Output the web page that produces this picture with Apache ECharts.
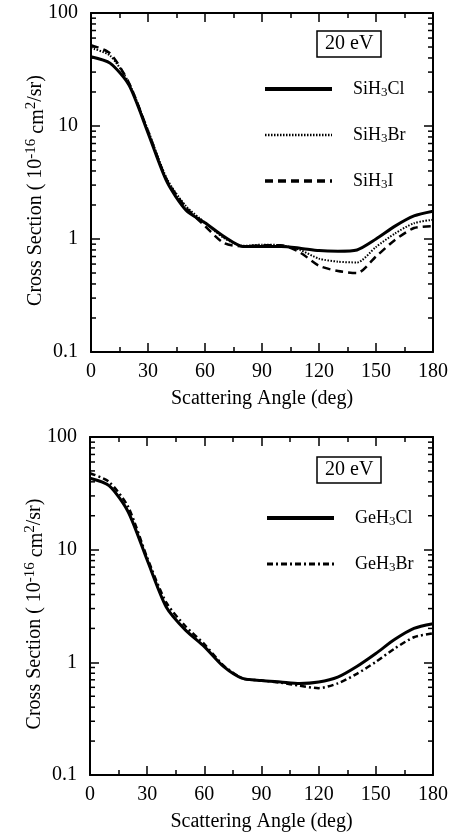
<!DOCTYPE html>
<html><head><meta charset="utf-8">
<script src="https://cdn.jsdelivr.net/npm/echarts@6/dist/echarts.min.js"></script>
<style>html,body{margin:0;padding:0;background:#fff}#c{width:458px;height:834px}</style>
</head><body><div id="c"></div>
<script>
var angles = [0,10,20,30,40,50,60,70,80,90,100,110,120,130,140,150,160,170,180];
var siH3Cl = [41,36,23,8.7,3.2,1.8,1.39,1.05,0.86,0.86,0.86,0.83,0.79,0.78,0.80,1.0,1.3,1.6,1.76];
var siH3Br = [49,42,24,9.2,3.4,1.95,1.4,1.02,0.87,0.89,0.88,0.80,0.67,0.63,0.62,0.85,1.12,1.38,1.48];
var siH3I  = [52,44,24,9.0,3.3,1.9,1.3,0.92,0.86,0.88,0.88,0.76,0.58,0.52,0.50,0.70,0.98,1.25,1.30];
var geH3Cl = [43,37,21.7,8.1,3.1,1.94,1.38,0.92,0.72,0.69,0.67,0.65,0.67,0.74,0.92,1.2,1.6,2.0,2.2];
var geH3Br = [47.7,40,24,8.5,3.4,2.1,1.45,0.94,0.72,0.69,0.66,0.62,0.59,0.65,0.79,1.01,1.33,1.67,1.81];
var yTickLabels = ['0.1','1','10','100'];
var xTickLabels = ['0','30','60','90','120','150','180'];
var minorY = [0.2,0.3,0.4,0.5,0.6,0.7,0.8,0.9,2,3,4,5,6,7,8,9,20,30,40,50,60,70,80,90];

var FONT = 'Liberation Serif';
function pairs(ys){ return angles.map(function(a,i){return [a, ys[i]];}); }
var richBase = {
  a:{fontFamily:FONT,fontSize:20,color:'#000',lineHeight:24},
  c:{fontFamily:FONT,fontSize:20,color:'#000',lineHeight:20,verticalAlign:'bottom'},
  sup:{fontFamily:FONT,fontSize:15,color:'#000',lineHeight:14,verticalAlign:'top'},
  la:{fontFamily:FONT,fontSize:18,color:'#000',lineHeight:20},
  ls:{fontFamily:FONT,fontSize:13,color:'#000',lineHeight:10,verticalAlign:'bottom'}
};
var yName = '{a|Cross Section ( 10}{sup|-16}{c| cm}{sup|2}{a|/sr)}';
var legendNames = {
  'SiH3Cl':'{la|SiH}{ls|3}{la|Cl}','SiH3Br':'{la|SiH}{ls|3}{la|Br}','SiH3I':'{la|SiH}{ls|3}{la|I}',
  'GeH3Cl':'{la|GeH}{ls|3}{la|Cl}','GeH3Br':'{la|GeH}{ls|3}{la|Br}'
};
var grids = [
  {left:91, top:13, width:342, height:339},
  {left:90, top:437, width:343, height:338}
];
var xAxes = [], yAxes = [];
grids.forEach(function(g, gi){
  [false,true].forEach(function(isTop){
    xAxes.push({
      type:'value', gridIndex:gi, min:0, max:180, interval:30, position: isTop?'top':'bottom',
      axisLine:{show:true,onZero:false,lineStyle:{color:'#000',width:2}},
      axisTick:{show:true,inside:true,length:9,lineStyle:{color:'#000',width:1.5}},
      minorTick:{show:true,splitNumber:2,length:5,lineStyle:{color:'#000',width:1.5}},
      splitLine:{show:false},
      axisLabel:{show:!isTop,margin:10,fontFamily:FONT,fontSize:20,color:'#000',
        formatter:function(v){return xTickLabels[Math.round(v/30)];}},
      name: isTop?'':'Scattering Angle (deg)', nameLocation:'middle', nameGap:37,
      nameTextStyle:{fontFamily:FONT,fontSize:20,color:'#000'}
    });
  });
  [false,true].forEach(function(isRight){
    yAxes.push({
      type:'log', logBase:10, gridIndex:gi, min:0.1, max:100, position: isRight?'right':'left',
      axisLine:{show:true,onZero:false,lineStyle:{color:'#000',width:2}},
      axisTick:{show:true,inside:true,length:9,lineStyle:{color:'#000',width:1.5}},
      splitLine:{show:false},
      axisLabel:{show:!isRight,margin:13,fontFamily:FONT,fontSize:20,color:'#000',
        formatter:function(v){var e=Math.round(Math.log10(v))+1;return yTickLabels[e];}},
      name: isRight?'':yName,
      nameLocation:'middle', nameGap:43, nameRotate:90, nameMoveOverlap:false,
      nameTextStyle:{fontFamily:FONT,fontSize:20,rich:richBase,padding:[0,16,0,0]}
    });
  });
});

function lineSeries(name, data, gi, width, type){
  return {
    type:'line', name:name, xAxisIndex:gi*2, yAxisIndex:gi*2, data:pairs(data),
    symbol:'none', smooth:0.25, silent:true, z:3,
    lineStyle:{color:'#000', width:width, type:type}, itemStyle:{color:'#000'}
  };
}
function minorTickSeries(gi){
  return {
    type:'custom', xAxisIndex:gi*2, yAxisIndex:gi*2, silent:true, z:4,
    data: minorY.map(function(v){return [0, v];}),
    renderItem:function(params, api){
      var v = api.value(1);
      var pL = api.coord([0, v]), pR = api.coord([180, v]);
      return {type:'group', children:[
        {type:'line', shape:{x1:pL[0], y1:pL[1], x2:pL[0]+5, y2:pL[1]}, style:{stroke:'#000', lineWidth:1.5}},
        {type:'line', shape:{x1:pR[0], y1:pR[1], x2:pR[0]-5, y2:pR[1]}, style:{stroke:'#000', lineWidth:1.5}}
      ]};
    }
  };
}
var legendCommon = {
  orient:'vertical', itemWidth:67, itemHeight:20, itemGap:27, selectedMode:false,
  itemStyle:{opacity:0},
  textStyle:{rich:richBase, padding:[0,0,0,16]},
  formatter:function(n){return legendNames[n];}
};
var boxTitle = {borderColor:'#000', borderWidth:1.5, padding:[3,8,3,8],
  textStyle:{fontFamily:FONT,fontSize:20,fontWeight:'normal',color:'#000'}};
var option = {
  animation:false, backgroundColor:'#fff',
  title:[
    Object.assign({text:'20 eV', left:317, top:31}, boxTitle),
    Object.assign({text:'20 eV', left:317, top:457}, boxTitle)
  ],
  legend:[
    Object.assign({}, legendCommon, {left:258, top:75, data:[
      {name:'SiH3Cl', lineStyle:{width:4}}, {name:'SiH3Br', lineStyle:{width:2.5}}, {name:'SiH3I', lineStyle:{width:3.5}}]}),
    Object.assign({}, legendCommon, {left:260, top:504, data:[
      {name:'GeH3Cl', lineStyle:{width:4}}, {name:'GeH3Br', lineStyle:{width:3}}]})
  ],
  grid:grids, xAxis:xAxes, yAxis:yAxes,
  series:[
    lineSeries('SiH3Cl', siH3Cl, 0, 3, 'solid'),
    lineSeries('SiH3Br', siH3Br, 0, 2, [1.5,1.5]),
    lineSeries('SiH3I', siH3I, 0, 2.5, [8,5]),
    lineSeries('GeH3Cl', geH3Cl, 1, 3, 'solid'),
    lineSeries('GeH3Br', geH3Br, 1, 2.5, [6,3,2,3]),
    minorTickSeries(0), minorTickSeries(1)
  ]
};
var chart = echarts.init(document.getElementById('c'), null, {renderer:'canvas'});
chart.setOption(option);
</script></body></html>
